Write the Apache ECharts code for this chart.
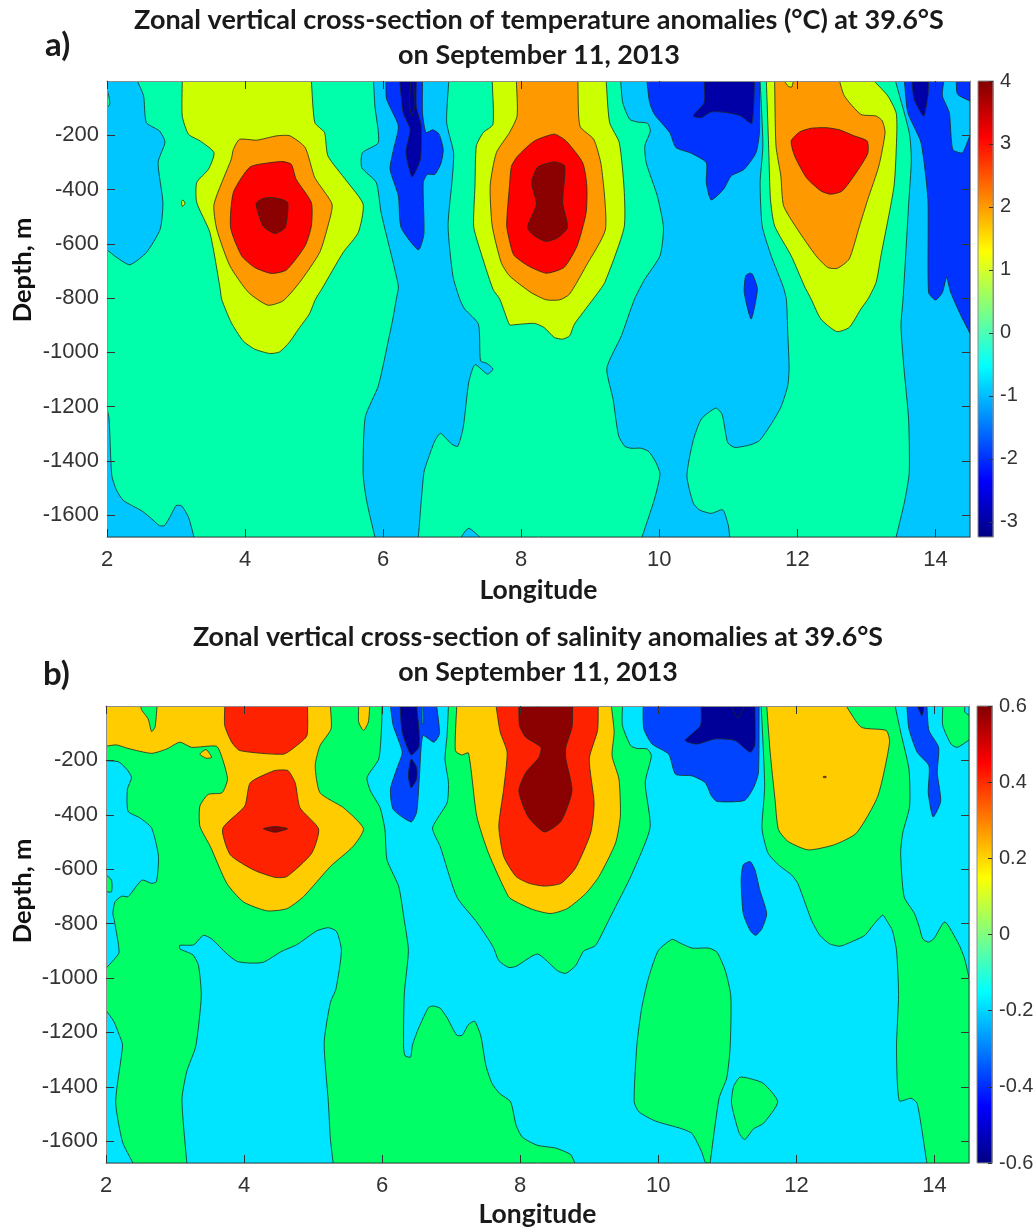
<!DOCTYPE html>
<html>
<head>
<meta charset="utf-8">
<title>Zonal cross-sections</title>
<script src="https://cdn.jsdelivr.net/npm/echarts@6/dist/echarts.min.js"></script>
<style>
html, body { margin: 0; padding: 0; background: #fff; }
#main { width: 1035px; height: 1228px; }
</style>
</head>
<body>
<div id="main"></div>
<script>
// tick labels
const lonTicks = [2, 4, 6, 8, 10, 12, 14];
const depthTicks = [-1600, -1400, -1200, -1000, -800, -600, -400, -200];
const tempBarTicks = [-3, -2, -1, 0, 1, 2, 3, 4];
const salBarTicks = [-0.6, -0.4, -0.2, 0, 0.2, 0.4, 0.6];

// panel a contours, [longitude, depth]
const tBase = [[2,0],[14.5,0],[14.5,-1680],[2,-1680]];
const tSkyLeft = [[2,-30],[2.03,-60],[2.04,-85],[2,-100],[2,-622],[2.14,-650],[2.33,-677],[2.57,-632],[2.77,-546],[2.81,-448],[2.74,-300],[2.84,-225],[2.76,-184],[2.57,-153],[2.53,-55],[2.44,0],[2,0]];
const tSkyCorner = [[2,-1205],[2.03,-1245],[2.07,-1454],[2.14,-1509],[2.24,-1546],[2.5,-1583],[2.62,-1607],[2.76,-1638],[2.83,-1638],[2.91,-1607],[3,-1565],[3.08,-1565],[3.18,-1607],[3.26,-1680],[2,-1680]];
const tSkyWest = [[5.86,0],[5.88,-92],[5.93,-227],[5.7,-264],[5.69,-319],[5.9,-374],[5.97,-485],[6.22,-755],[6.19,-804],[6.14,-877],[6.1,-926],[5.93,-1123],[5.74,-1239],[5.71,-1448],[5.76,-1546],[5.88,-1680],[6.51,-1680],[6.59,-1442],[6.65,-1393],[6.75,-1325],[6.83,-1298],[6.99,-1337],[7.08,-1346],[7.16,-1276],[7.24,-1110],[7.33,-1045],[7.51,-1080],[7.59,-1061],[7.5,-1040],[7.41,-1031],[7.38,-896],[7.18,-840],[7.11,-804],[7.01,-718],[6.94,-534],[7,-362],[7.02,-264],[6.92,-153],[6.95,0]];
const tSkyBump = [[7.13,-1680],[7.2,-1655],[7.25,-1648],[7.4,-1680]];
const tSkyMid = [[9.44,0],[9.47,-80],[9.57,-141],[9.68,-151],[9.83,-156],[9.87,-184],[9.79,-239],[9.81,-301],[9.97,-423],[10.06,-540],[10.01,-644],[9.79,-730],[9.64,-804],[9.45,-939],[9.24,-1058],[9.33,-1172],[9.41,-1307],[9.5,-1346],[9.59,-1353],[9.74,-1353],[9.85,-1366],[9.95,-1405],[10.01,-1448],[9.93,-1540],[9.75,-1680],[11.02,-1680],[11,-1638],[10.92,-1580],[10.75,-1593],[10.58,-1580],[10.49,-1554],[10.4,-1454],[10.49,-1325],[10.61,-1245],[10.82,-1205],[10.91,-1229],[10.99,-1332],[11.09,-1350],[11.31,-1341],[11.45,-1325],[11.62,-1264],[11.76,-1202],[11.86,-1123],[11.88,-1058],[11.86,-926],[11.84,-804],[11.79,-755],[11.62,-644],[11.49,-534],[11.46,-374],[11.5,-239],[11.46,0]];
const tSkyEast = [[13.42,0],[13.62,-190],[13.65,-288],[13.61,-460],[13.53,-804],[13.5,-902],[13.54,-1049],[13.61,-1245],[13.62,-1442],[13.55,-1552],[13.43,-1680],[14.5,-1680],[14.5,0]];
const tBlueWest = [[6.04,0],[6.05,-67],[6.22,-166],[6.15,-252],[6.1,-325],[6.22,-423],[6.26,-540],[6.51,-622],[6.59,-564],[6.58,-374],[6.64,-344],[6.75,-344],[6.84,-301],[6.87,-252],[6.81,-196],[6.72,-180],[6.62,-190],[6.57,-117],[6.57,0]];
const tBlueMid = [[9.82,0],[9.86,-80],[9.93,-123],[10.15,-190],[10.24,-245],[10.46,-266],[10.68,-301],[10.68,-374],[10.75,-438],[10.93,-399],[11.04,-350],[11.23,-325],[11.4,-264],[11.45,-190],[11.45,0]];
const tBlueIsle = [[11.31,-708],[11.25,-718],[11.23,-779],[11.33,-877],[11.42,-767],[11.35,-712]];
const tBlueEast = [[13.55,0],[13.6,-117],[13.79,-227],[13.89,-436],[13.9,-779],[14,-807],[14.1,-779],[14.16,-724],[14.22,-779],[14.37,-865],[14.5,-930],[14.5,0]];
const tSkyNotch = [[14.12,0],[14.1,-55],[14.2,-117],[14.25,-252],[14.39,-264],[14.5,-200],[14.5,-74],[14.32,-49],[14.3,0]];
const tNavyWest = [[6.24,0],[6.29,-117],[6.39,-178],[6.33,-264],[6.42,-353],[6.54,-288],[6.55,-166],[6.48,-92],[6.48,0]];
const tNavyCore = [[6.4,0],[6.38,-92],[6.42,-129],[6.46,-92],[6.44,0]];
const tNavyMid = [[10.65,0],[10.65,-80],[10.49,-129],[10.61,-135],[10.75,-114],[10.99,-117],[11.18,-129],[11.34,-156],[11.38,0]];
const tNavyEast = [[13.66,0],[13.69,-67],[13.83,-129],[13.89,-55],[13.9,0]];
const tLimeWest = [[3.09,0],[3.09,-129],[3.18,-196],[3.35,-221],[3.55,-264],[3.47,-325],[3.3,-374],[3.3,-448],[3.49,-558],[3.64,-767],[3.66,-804],[3.8,-890],[3.97,-957],[4.14,-988],[4.36,-1004],[4.5,-998],[4.64,-963],[4.79,-908],[4.93,-859],[5.02,-804],[5.11,-767],[5.42,-632],[5.64,-558],[5.71,-454],[5.47,-368],[5.2,-276],[5.15,-190],[5.01,-153],[4.96,0]];
const tLimeDot = [[3.08,-445],[3.1,-438],[3.13,-452],[3.09,-462]];
const tLimeMid = [[7.58,0],[7.59,-160],[7.45,-190],[7.35,-239],[7.33,-386],[7.31,-534],[7.37,-595],[7.59,-767],[7.69,-804],[7.83,-898],[7.9,-898],[8.19,-893],[8.33,-908],[8.48,-945],[8.6,-951],[8.7,-939],[8.77,-896],[9.04,-804],[9.21,-742],[9.49,-540],[9.49,-399],[9.42,-227],[9.28,-153],[9.23,0]];
const tLimeEast = [[11.55,0],[11.58,-215],[11.61,-436],[11.67,-534],[11.91,-644],[12.1,-755],[12.2,-804],[12.34,-877],[12.57,-923],[12.75,-908],[12.92,-840],[13.02,-804],[13.14,-742],[13.21,-644],[13.4,-386],[13.44,-190],[13.43,-117],[13.31,-55],[13.11,0]];
const tOrangeWest = [[3.92,-215],[3.83,-252],[3.8,-288],[3.55,-454],[3.59,-546],[3.78,-681],[4.05,-779],[4.33,-826],[4.55,-810],[4.79,-742],[5.08,-632],[5.2,-534],[5.26,-454],[5.01,-356],[4.87,-245],[4.65,-202],[4.46,-202],[4.17,-218]];
const tOrangeMid = [[7.93,0],[7.94,-129],[7.83,-190],[7.64,-264],[7.55,-386],[7.58,-534],[7.71,-669],[7.83,-718],[8.14,-779],[8.36,-806],[8.56,-806],[8.7,-785],[8.94,-681],[9.22,-546],[9.16,-313],[9.05,-215],[8.85,-166],[8.82,0]];
const tOrangeEast = [[11.67,0],[11.69,-239],[11.76,-350],[11.8,-460],[12,-546],[12.27,-644],[12.44,-687],[12.58,-690],[12.75,-656],[12.9,-534],[13.02,-436],[13.18,-313],[13.27,-190],[13.23,-147],[13.14,-129],[12.92,-123],[12.68,-55],[12.61,0]];
const tLimeSpot = [[11.81,0],[11.87,-20],[11.92,-22],[11.94,0]];
const tRedWest = [[4.07,-317],[3.83,-411],[3.79,-540],[3.95,-644],[4.14,-687],[4.38,-709],[4.6,-696],[4.87,-607],[4.96,-534],[4.96,-448],[4.74,-362],[4.67,-307],[4.55,-297],[4.36,-301]];
const tRedMid = [[8.48,-196],[8.19,-221],[7.95,-276],[7.86,-313],[7.83,-386],[7.79,-534],[7.86,-620],[7.9,-644],[8.1,-681],[8.36,-708],[8.62,-687],[8.81,-607],[8.94,-485],[8.95,-386],[8.89,-301],[8.65,-221]];
const tRedEast = [[11.91,-221],[11.96,-276],[12.13,-356],[12.34,-405],[12.48,-417],[12.65,-405],[12.87,-331],[13.02,-266],[13.01,-221],[12.82,-202],[12.61,-180],[12.42,-172],[12.2,-174],[12.03,-188]];
const tDarkWest = [[4.16,-452],[4.26,-534],[4.43,-562],[4.58,-540],[4.62,-450],[4.53,-436],[4.38,-429],[4.26,-433]];
const tDarkMid = [[8.24,-317],[8.48,-298],[8.63,-313],[8.6,-448],[8.67,-540],[8.53,-577],[8.36,-591],[8.19,-570],[8.09,-540],[8.22,-454],[8.15,-374]];

// panel b contours, [longitude, depth]
const sBase = [[2,0],[14.5,0],[14.5,-1680],[2,-1680]];
const sCyanTop = [[2,-201],[2.18,-205],[2.3,-232],[2.37,-263],[2.31,-306],[2.32,-387],[2.49,-411],[2.66,-448],[2.76,-553],[2.73,-646],[2.66,-652],[2.52,-640],[2.32,-701],[2.23,-699],[2.13,-720],[2.1,-763],[2.12,-788],[2.19,-905],[2.11,-934],[2,-964]];
const sCyanCorner = [[2,-1119],[2.11,-1158],[2.19,-1208],[2.24,-1247],[2.14,-1455],[2.24,-1603],[2.39,-1680],[2,-1680]];
const sCyanWest = [[3.07,-880],[3.27,-878],[3.41,-843],[3.53,-856],[3.75,-911],[3.9,-939],[4.09,-945],[4.28,-942],[4.55,-901],[4.76,-878],[5.05,-827],[5.22,-815],[5.34,-829],[5.41,-899],[5.33,-1041],[5.25,-1090],[5.16,-1238],[5.22,-1455],[5.25,-1591],[5.29,-1680],[3.17,-1680],[3.1,-1448],[3.17,-1343],[3.3,-1251],[3.38,-1066],[3.34,-955],[3.26,-915],[3.07,-893]];
const sCyanMid = [[6,0],[5.99,-84],[5.95,-195],[5.78,-263],[5.83,-312],[5.97,-374],[6.04,-454],[6.07,-565],[6.24,-664],[6.32,-788],[6.38,-899],[6.32,-1060],[6.31,-1251],[6.33,-1285],[6.41,-1291],[6.44,-1245],[6.53,-1183],[6.67,-1109],[6.74,-1103],[6.84,-1111],[6.94,-1146],[7.08,-1210],[7.16,-1210],[7.25,-1171],[7.34,-1159],[7.43,-1214],[7.5,-1319],[7.59,-1387],[7.7,-1424],[7.86,-1455],[7.94,-1541],[8.03,-1585],[8.25,-1615],[8.51,-1625],[8.73,-1649],[8.79,-1680],[13.89,-1680],[13.75,-1461],[13.66,-1442],[13.49,-1451],[13.45,-1257],[13.48,-1060],[13.45,-899],[13.39,-825],[13.32,-794],[13.25,-769],[13.13,-800],[12.99,-843],[12.79,-868],[12.63,-883],[12.48,-874],[12.34,-843],[12.22,-788],[12.02,-652],[11.93,-621],[11.74,-584],[11.59,-541],[11.52,-479],[11.5,-442],[11.54,-294],[11.49,0],[9.48,0],[9.48,-72],[9.6,-146],[9.69,-156],[9.84,-158],[9.9,-183],[9.81,-282],[9.88,-448],[9.6,-627],[9.33,-763],[9.28,-788],[9.09,-880],[8.92,-901],[8.8,-955],[8.66,-983],[8.54,-973],[8.25,-912],[7.94,-957],[7.83,-961],[7.69,-936],[7.61,-887],[7.47,-831],[7.35,-788],[7.08,-701],[6.84,-516],[6.73,-448],[6.94,-356],[6.96,-282],[6.91,-195],[6.94,-109],[6.96,0]];
const sCyanEast = [[13.43,0],[13.51,-96],[13.63,-232],[13.64,-368],[13.54,-467],[13.51,-541],[13.56,-701],[13.71,-763],[13.78,-813],[13.83,-856],[13.91,-868],[13.99,-856],[14.15,-794],[14.35,-875],[14.43,-924],[14.5,-998],[14.5,0]];
const sGreenEdge = [[2,-621],[2.08,-640],[2.08,-683],[2,-683]];
const sGreenCorner = [[14.12,0],[14.12,-72],[14.24,-140],[14.33,-152],[14.5,-125],[14.5,-35],[14.44,-22],[14.44,0]];
const sGreenIsle = [[10.2,-858],[10,-899],[9.86,-998],[9.76,-1109],[9.69,-1245],[9.65,-1455],[9.72,-1492],[9.96,-1526],[10.34,-1554],[10.49,-1572],[10.63,-1640],[10.68,-1677],[10.75,-1680],[10.88,-1442],[10.99,-1368],[11.04,-1257],[11.05,-1066],[10.97,-973],[10.85,-905],[10.73,-890],[10.49,-890],[10.32,-872]];
const sGreenSmall = [[11.18,-1365],[11.09,-1399],[11.06,-1461],[11.17,-1569],[11.25,-1594],[11.38,-1554],[11.52,-1535],[11.73,-1455],[11.52,-1387],[11.3,-1368]];
const sBlueWest = [[6.12,0],[6.16,-72],[6.29,-170],[6.21,-232],[6.12,-306],[6.16,-380],[6.42,-426],[6.5,-390],[6.54,-257],[6.59,-109],[6.75,-133],[6.83,-102],[6.79,0]];
const sBlueMid = [[9.78,0],[9.79,-84],[9.91,-140],[10.15,-177],[10.25,-251],[10.49,-257],[10.68,-282],[10.77,-331],[10.85,-351],[11.25,-347],[11.38,-300],[11.45,-245],[11.46,0]];
const sBlueIsle = [[11.33,-572],[11.23,-584],[11.2,-640],[11.23,-763],[11.33,-825],[11.41,-843],[11.5,-819],[11.57,-763],[11.47,-677],[11.4,-603]];
const sBlueEast = [[13.6,0],[13.63,-84],[13.75,-170],[13.92,-220],[13.91,-319],[13.98,-408],[14.09,-350],[14.04,-245],[14.06,-152],[13.92,-90],[13.89,0]];
const sCyanSlit = [[6.58,0],[6.58,-65],[6.6,-65],[6.6,0]];
const sNavyWest = [[6.26,0],[6.29,-96],[6.42,-180],[6.53,-152],[6.54,-109],[6.5,0]];
const sNavyLow = [[6.42,-195],[6.38,-257],[6.42,-300],[6.5,-269],[6.5,-226]];
const sNavyMid = [[10.62,0],[10.61,-72],[10.39,-127],[10.56,-140],[10.82,-121],[11.11,-127],[11.33,-170],[11.4,-143],[11.4,0]];
const sNavyNotch = [[11.05,0],[11.15,-44],[11.25,0]];
const sNavyEast = [[13.75,0],[13.82,-35],[13.85,0]];
const sGoldWest = [[2,-148],[2.15,-143],[2.32,-156],[2.66,-174],[2.88,-158],[3.07,-133],[3.24,-152],[3.6,-148],[3.68,-189],[3.76,-269],[3.68,-319],[3.48,-325],[3.36,-368],[3.36,-442],[3.51,-516],[3.75,-652],[3.99,-720],[4.33,-753],[4.62,-745],[4.86,-701],[5.25,-590],[5.58,-516],[5.73,-451],[5.44,-374],[5.1,-319],[5.03,-219],[5.1,-146],[5.26,-84],[5.25,0],[2,0]];
const sGreenTop = [[2.5,0],[2.52,-16],[2.61,-47],[2.66,-94],[2.71,-78],[2.74,0]];
const sGoldSpot = [[3.36,-177],[3.45,-160],[3.53,-189],[3.45,-192]];
const sGoldStrip = [[5.66,0],[5.66,-59],[5.73,-90],[5.8,-59],[5.82,0]];
const sGoldMid = [[7.08,0],[7.06,-164],[7.15,-180],[7.25,-173],[7.37,-405],[7.54,-541],[7.83,-701],[7.94,-720],[8.18,-748],[8.44,-763],[8.68,-745],[8.95,-689],[9.14,-627],[9.38,-504],[9.45,-405],[9.43,-269],[9.33,-183],[9.36,-96],[9.32,0]];
const sGoldEast = [[11.57,0],[11.62,-170],[11.69,-343],[11.74,-454],[11.88,-498],[12.17,-529],[12.55,-510],[12.87,-467],[13.18,-331],[13.35,-133],[13.3,-90],[12.94,-78],[12.72,0]];
const sRedUpper = [[3.72,0],[3.72,-72],[3.82,-133],[3.94,-164],[4.57,-177],[4.76,-146],[4.91,-109],[4.92,0]];
const sRedLower = [[4.55,-235],[4.43,-238],[4.09,-282],[4.01,-368],[3.69,-451],[3.8,-547],[4.14,-603],[4.45,-630],[4.62,-627],[4.98,-541],[5.08,-452],[4.81,-374],[4.74,-282],[4.64,-238]];
const sRedMid = [[7.65,0],[7.71,-96],[7.81,-170],[7.76,-306],[7.69,-442],[7.76,-553],[7.94,-627],[8.13,-652],[8.35,-662],[8.59,-652],[8.8,-596],[9.02,-467],[9.07,-356],[9,-194],[9.12,-90],[9.13,0]];
const sRedDot = [[12.39,-259],[12.43,-259],[12.43,-263],[12.39,-263]];
const sDarkWest = [[4.28,-451],[4.45,-464],[4.63,-451],[4.45,-443]];
const sDarkMid = [[7.98,0],[7.99,-72],[8.08,-115],[8.3,-152],[8.27,-189],[8.08,-245],[7.98,-312],[8.11,-405],[8.35,-463],[8.59,-424],[8.75,-312],[8.66,-194],[8.66,-152],[8.75,-78],[8.76,0]];

// draw order matters: each contour paints over the ones before it
const tempContours = [
    ['green', tBase], ['sky', tSkyLeft], ['sky', tSkyCorner], ['sky', tSkyWest], ['sky', tSkyBump], ['sky', tSkyMid], ['sky', tSkyEast],
    ['blue', tBlueWest], ['blue', tBlueMid], ['blue', tBlueIsle], ['blue', tBlueEast], ['sky', tSkyNotch],
    ['navy', tNavyWest], ['navy', tNavyCore], ['navy', tNavyMid], ['navy', tNavyEast],
    ['lime', tLimeWest], ['lime', tLimeDot], ['lime', tLimeMid], ['lime', tLimeEast],
    ['orange', tOrangeWest], ['orange', tOrangeMid], ['orange', tOrangeEast], ['lime', tLimeSpot],
    ['red', tRedWest], ['red', tRedMid], ['red', tRedEast], ['dark', tDarkWest], ['dark', tDarkMid]
];
const salContours = [
    ['green', sBase], ['cyan', sCyanTop], ['cyan', sCyanCorner], ['cyan', sCyanWest], ['cyan', sCyanMid], ['cyan', sCyanEast],
    ['green', sGreenEdge], ['green', sGreenCorner], ['green', sGreenIsle], ['green', sGreenSmall],
    ['blue', sBlueWest], ['blue', sBlueMid], ['blue', sBlueIsle], ['blue', sBlueEast], ['cyan', sCyanSlit],
    ['navy', sNavyWest], ['navy', sNavyLow], ['navy', sNavyMid], ['navy', sNavyNotch], ['navy', sNavyEast],
    ['gold', sGoldWest], ['green', sGreenTop], ['gold', sGoldSpot], ['gold', sGoldStrip], ['gold', sGoldMid], ['gold', sGoldEast],
    ['red', sRedUpper], ['red', sRedLower], ['red', sRedMid], ['red', sRedDot],
    ['dark', sDarkWest], ['dark', sDarkMid]
];

const tempColors = { navy: '#0000a6', blue: '#0033ff', sky: '#00c6ff', green: '#00ffaa', lime: '#ccff00', orange: '#ff9900', red: '#ff0000', dark: '#8b0000' };
const salColors = { navy: '#000099', blue: '#0044ff', cyan: '#00e5ff', green: '#00ff66', gold: '#ffcc00', red: '#ff2200', dark: '#8b0000' };
const jet = ['#000080', '#0000ff', '#00ffff', '#ffff00', '#ff0000', '#800000'];
const jetStops = [0, 0.125, 0.375, 0.625, 0.875, 1];

const textColor = '#333';
const tickFont = { fontFamily: 'Liberation Sans', fontSize: 22, color: textColor };
const barFont = { fontFamily: 'Liberation Sans', fontSize: 20, color: textColor };
const titleFont = { fontFamily: 'Lato', fontWeight: 'bold', color: '#1a1a1a' };

function onFrame(p) {
    return p[0] === 2 || p[0] === 14.5 || p[1] === 0 || p[1] === -1680;
}

function contourSeries(contours, colors, idx) {
    return {
        type: 'custom',
        xAxisIndex: idx,
        yAxisIndex: idx,
        clip: true,
        silent: true,
        data: contours.map((c, i) => [i]),
        encode: { x: [], y: [] },
        renderItem(params, api) {
            const c = contours[params.dataIndex];
            const pts = [];
            c[1].forEach((p) => {
                const q = api.coord(p);
                pts.push(q);
                // doubled point keeps the corner sharp where a contour meets the frame
                if (onFrame(p)) pts.push(q);
            });
            return {
                type: 'polygon',
                shape: { points: pts, smooth: 0.2 },
                style: { fill: colors[c[0]], stroke: '#1c2a22', lineWidth: 0.8 }
            };
        }
    };
}

function barSeries(idx, lo, hi) {
    return {
        type: 'custom',
        xAxisIndex: idx,
        yAxisIndex: idx,
        silent: true,
        data: [[0]],
        encode: { x: [], y: [] },
        renderItem(params, api) {
            const a = api.coord([0, hi]);
            const b = api.coord([1, lo]);
            return {
                type: 'rect',
                shape: { x: a[0], y: a[1], width: b[0] - a[0], height: b[1] - a[1] },
                style: {
                    fill: new echarts.graphic.LinearGradient(0, 1, 0, 0, jet.map((c, i) => ({ offset: jetStops[i], color: c }))),
                    stroke: '#8c8c8c',
                    lineWidth: 1
                }
            };
        }
    };
}

const frame = { show: true, lineStyle: { color: '#8c8c8c', width: 1 } };
function tickStyle(ticks) {
    return { show: true, inside: true, length: 8, customValues: ticks, lineStyle: { color: '#333', width: 1 } };
}
function plainNumber(v) {
    return String(v);
}

function lonAxis(grid, gap) {
    return {
        type: 'value', gridIndex: grid, min: 2, max: 14.5, z: 10,
        name: 'Longitude', nameLocation: 'middle', nameGap: gap,
        nameTextStyle: Object.assign({ fontSize: 26.5 }, titleFont),
        splitLine: { show: false }, axisLine: Object.assign({ onZero: false }, frame),
        axisTick: tickStyle(lonTicks),
        axisLabel: Object.assign({ margin: 12, customValues: lonTicks, formatter: plainNumber }, tickFont)
    };
}
function lonTopAxis(grid) {
    return {
        type: 'value', gridIndex: grid, min: 2, max: 14.5, z: 10, position: 'top',
        splitLine: { show: false }, axisLine: Object.assign({ onZero: false }, frame),
        axisTick: tickStyle(lonTicks), axisLabel: { show: false }
    };
}
function depthAxis(grid) {
    return {
        type: 'value', gridIndex: grid, min: -1680, max: 0, z: 10,
        splitLine: { show: false }, axisLine: Object.assign({ onZero: false }, frame),
        axisTick: tickStyle(depthTicks),
        axisLabel: Object.assign({ margin: 8, customValues: depthTicks, formatter: plainNumber }, tickFont)
    };
}
function depthRightAxis(grid) {
    return {
        type: 'value', gridIndex: grid, min: -1680, max: 0, z: 10, position: 'right',
        splitLine: { show: false }, axisLine: Object.assign({ onZero: false }, frame),
        axisTick: tickStyle(depthTicks), axisLabel: { show: false }
    };
}
function barXAxis(grid) {
    return { type: 'value', gridIndex: grid, min: 0, max: 1, show: false };
}
function barYAxis(grid, lo, hi, ticks) {
    return {
        type: 'value', gridIndex: grid, min: lo, max: hi, position: 'right', z: 10,
        splitLine: { show: false }, axisLine: Object.assign({ onZero: false }, frame),
        axisTick: { show: true, inside: true, length: 4, customValues: ticks, lineStyle: { color: '#333' } },
        axisLabel: Object.assign({ margin: 7, customValues: ticks, formatter: plainNumber, hideOverlap: false }, barFont)
    };
}
function depthName(x, y) {
    return {
        type: 'text', x: x, y: y, rotation: Math.PI / 2,
        style: { text: 'Depth, m', fontFamily: 'Lato', fontWeight: 'bold', fontSize: 25.5, fill: '#111', textAlign: 'center', textVerticalAlign: 'middle' }
    };
}

const myChart = echarts.init(document.getElementById('main'));
myChart.setOption({
    animation: false,
    backgroundColor: '#fff',
    title: [
        { text: 'Zonal vertical cross-section of temperature anomalies (°C) at 39.6°S\non September 11, 2013', left: 534, top: -2, textAlign: 'center',
          textStyle: Object.assign({ fontSize: 27, lineHeight: 35 }, titleFont) },
        { text: 'Zonal vertical cross-section of salinity anomalies at 39.6°S\non September 11, 2013', left: 533, top: 615, textAlign: 'center',
          textStyle: Object.assign({ fontSize: 26.8, lineHeight: 35 }, titleFont) },
        { text: 'a)', left: 40, top: 24, textStyle: Object.assign({ fontSize: 33 }, titleFont) },
        { text: 'b)', left: 38, top: 653, textStyle: Object.assign({ fontSize: 33 }, titleFont) }
    ],
    grid: [
        { left: 107, top: 81, width: 863, height: 456, outerBoundsMode: 'none' },
        { left: 106, top: 706, width: 863, height: 457, outerBoundsMode: 'none' },
        { left: 978, top: 81, width: 15, height: 456, outerBoundsMode: 'none' },
        { left: 977, top: 706, width: 15, height: 457, outerBoundsMode: 'none' }
    ],
    xAxis: [lonAxis(0, 40), lonAxis(1, 38), barXAxis(2), barXAxis(3), lonTopAxis(0), lonTopAxis(1)],
    yAxis: [depthAxis(0), depthAxis(1), barYAxis(2, -3.24, 4, tempBarTicks), barYAxis(3, -0.6, 0.6, salBarTicks), depthRightAxis(0), depthRightAxis(1)],
    series: [
        contourSeries(tempContours, tempColors, 0),
        contourSeries(salContours, salColors, 1),
        barSeries(2, -3.24, 4),
        barSeries(3, -0.6, 0.6)
    ],
    graphic: [depthName(23, 270), depthName(23, 891)]
});
</script>
</body>
</html>
